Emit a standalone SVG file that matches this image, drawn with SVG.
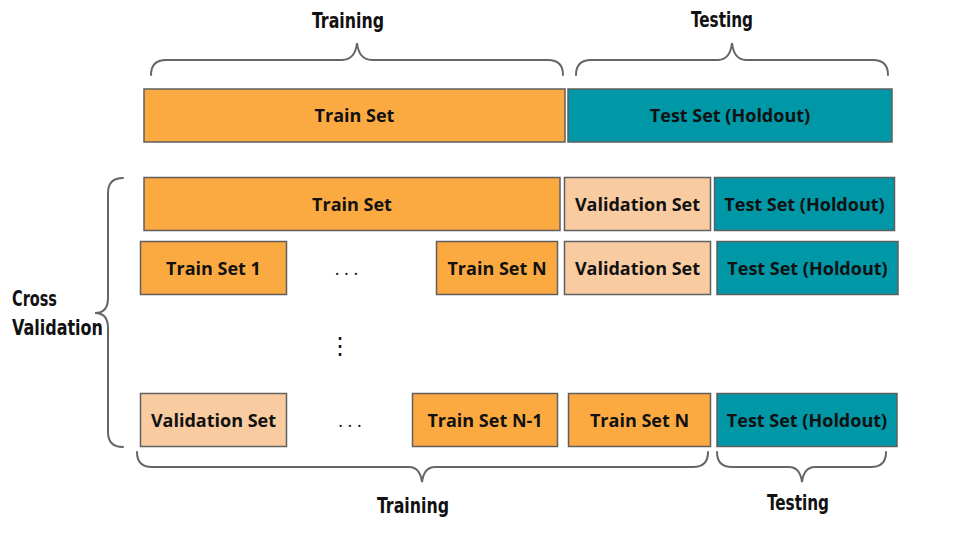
<svg xmlns="http://www.w3.org/2000/svg" width="960" height="540" viewBox="0 0 960 540">
<style>
.box{stroke:#5f5f5f;stroke-width:1.5}
.tr{fill:#FBAA42}
.te{fill:#0097A7}
.va{fill:#F8CBA0}
.lbl{font-family:"Open Sans","Lato","DejaVu Sans",sans-serif;font-weight:700;font-size:18px;fill:#111;text-anchor:middle}
.hand{font-family:"DejaVu Sans Condensed","DejaVu Sans",sans-serif;font-weight:700;font-size:22px;fill:#111}
.brace{fill:none;stroke:#666;stroke-width:2;stroke-linecap:round}
.dots{font-family:"Open Sans","DejaVu Sans",sans-serif;font-size:18px;fill:#111;text-anchor:middle}
</style>
<rect width="960" height="540" fill="#fff"/>

<g id="braces">
<path class="brace" d="M151,75 Q151,60 166,60 L342,60 Q355,60 357,43 Q359,60 372,60 L548,60 Q563,60 563,75"/>
<path class="brace" d="M576,75 Q576,60 591,60 L718,60 Q730,60 732,43 Q734,60 746,60 L873,60 Q888,60 888,75"/>
<path class="brace" d="M123,178 Q108,178 108,193 L108,298 Q108,313 95,313 Q108,313 108,328 L108,432 Q108,447 123,447"/>
<path class="brace" d="M137,452 Q137,467 152,467 L409,467 Q420,467 422,482 Q424,467 435,467 L693,467 Q708,467 708,452"/>
<path class="brace" d="M717,452 Q717,467 732,467 L789,467 Q800,467 802,482 Q804,467 815,467 L871,467 Q886,467 886,452"/>
</g>

<g id="labels">
<text class="hand" x="312" y="28" textLength="72" lengthAdjust="spacingAndGlyphs">Training</text>
<text class="hand" x="691" y="27" textLength="62" lengthAdjust="spacingAndGlyphs">Testing</text>
<text class="hand" x="12" y="306" textLength="45" lengthAdjust="spacingAndGlyphs">Cross</text>
<text class="hand" x="12" y="335" textLength="91" lengthAdjust="spacingAndGlyphs">Validation</text>
<text class="hand" x="377" y="513" textLength="72" lengthAdjust="spacingAndGlyphs">Training</text>
<text class="hand" x="767" y="510" textLength="62" lengthAdjust="spacingAndGlyphs">Testing</text>
</g>

<g id="row0-train"><rect class="box tr" x="144" y="89" width="421" height="53"/><text class="lbl" x="354.5" y="122">Train Set</text></g>
<g id="row0-test"><rect class="box te" x="568" y="89" width="324" height="53"/><text class="lbl" x="730" y="122">Test Set (Holdout)</text></g>

<g id="row1-train"><rect class="box tr" x="144" y="177.5" width="416" height="53"/><text class="lbl" x="352" y="210.5">Train Set</text></g>
<g id="row1-val"><rect class="box va" x="564.5" y="177.5" width="146" height="53"/><text class="lbl" x="637.5" y="210.5">Validation Set</text></g>
<g id="row1-test"><rect class="box te" x="714.5" y="177.5" width="180" height="53"/><text class="lbl" x="804.5" y="210.5">Test Set (Holdout)</text></g>

<g id="row2-train1"><rect class="box tr" x="140.5" y="241.5" width="146" height="53"/><text class="lbl" x="213.5" y="274.5">Train Set 1</text></g>
<g id="row2-dots"><text class="dots" x="346.5" y="275">. . .</text></g>
<g id="row2-trainN"><rect class="box tr" x="436.5" y="241.5" width="121" height="53"/><text class="lbl" x="497" y="274.5">Train Set N</text></g>
<g id="row2-val"><rect class="box va" x="564.5" y="241.5" width="146" height="53"/><text class="lbl" x="637.5" y="274.5">Validation Set</text></g>
<g id="row2-test"><rect class="box te" x="717" y="241.5" width="181" height="53"/><text class="lbl" x="807.5" y="274.5">Test Set (Holdout)</text></g>

<g id="vdots"><text x="340" y="354" font-family="DejaVu Sans,sans-serif" font-size="24" fill="#111" text-anchor="middle">⋮</text></g>

<g id="row3-val"><rect class="box va" x="140.5" y="393.5" width="146" height="53"/><text class="lbl" x="213.5" y="426.5">Validation Set</text></g>
<g id="row3-dots"><text class="dots" x="350" y="427">. . .</text></g>
<g id="row3-trainN1"><rect class="box tr" x="412.5" y="393.5" width="145" height="53"/><text class="lbl" x="485" y="426.5">Train Set N-1</text></g>
<g id="row3-trainN"><rect class="box tr" x="568.5" y="393.5" width="142" height="53"/><text class="lbl" x="639.5" y="426.5">Train Set N</text></g>
<g id="row3-test"><rect class="box te" x="717" y="393.5" width="180" height="53"/><text class="lbl" x="807" y="426.5">Test Set (Holdout)</text></g>
</svg>
